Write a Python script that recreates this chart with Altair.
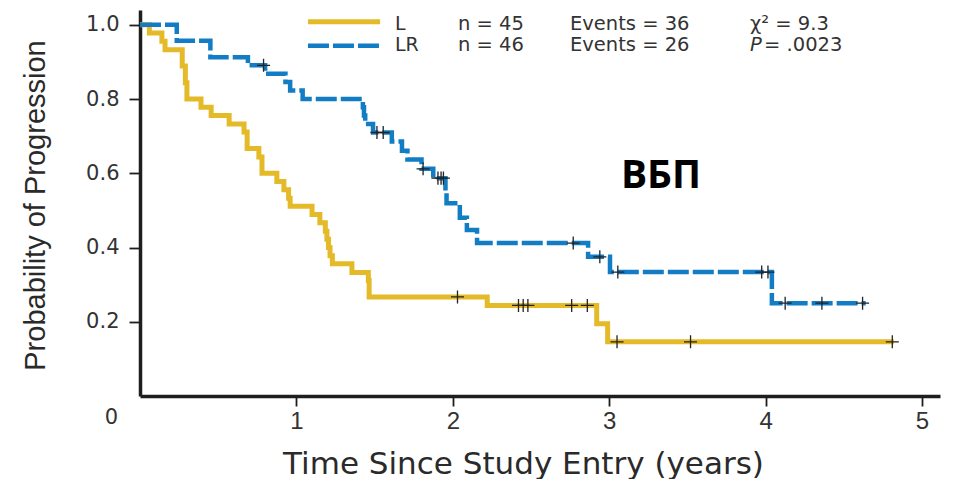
import altair as alt
import pandas as pd

# ---------------- data ----------------
# L arm: Kaplan-Meier step points (time in years, probability)
l_time = [0.0, 0.06, 0.14, 0.16, 0.27, 0.29, 0.30, 0.39, 0.455, 0.57, 0.665, 0.685,
          0.76, 0.78, 0.875, 0.92, 0.95, 0.96, 1.10, 1.15, 1.185, 1.195, 1.205, 1.215,
          1.23, 1.355, 1.46, 1.465, 2.22, 2.92, 2.99, 4.82]
l_surv = [1.0, 0.978, 0.956, 0.933, 0.889, 0.844, 0.80, 0.778, 0.756, 0.733, 0.711, 0.667,
          0.644, 0.60, 0.578, 0.556, 0.533, 0.511, 0.489, 0.467, 0.444, 0.422, 0.40, 0.378,
          0.356, 0.333, 0.311, 0.267, 0.244, 0.195, 0.146, 0.146]
l_cens_time = [2.03, 2.42, 2.45, 2.48, 2.76, 2.86, 3.05, 3.52, 4.81]
l_cens_surv = [0.267, 0.244, 0.244, 0.244, 0.244, 0.244, 0.146, 0.146, 0.146]

# LR arm
lr_time = [0.0, 0.235, 0.45, 0.69, 0.80, 0.93, 0.96, 1.04, 1.425, 1.432, 1.44, 1.49,
           1.61, 1.675, 1.71, 1.80, 1.875, 1.953, 1.96, 2.045, 2.09, 2.155, 2.865,
           3.005, 4.04, 4.64]
lr_surv = [1.0, 0.957, 0.913, 0.891, 0.868, 0.846, 0.823, 0.80, 0.778, 0.756, 0.733, 0.710,
           0.686, 0.661, 0.637, 0.612, 0.587, 0.55, 0.519, 0.480, 0.447, 0.412, 0.375,
           0.334, 0.250, 0.250]
lr_cens_time = [0.79, 1.515, 1.555, 1.81, 1.905, 1.925, 1.94, 2.77, 2.94, 3.055,
                3.975, 4.015, 4.125, 4.36, 4.62]
lr_cens_surv = [0.891, 0.710, 0.710, 0.612, 0.587, 0.587, 0.587, 0.412, 0.375, 0.334,
                0.334, 0.334, 0.25, 0.25, 0.25]

x_ticks = [1, 2, 3, 4, 5]
y_ticks = [0.2, 0.4, 0.6, 0.8, 1.0]
series_names = ["L", "LR"]
n_text = ["n = 45", "n = 46"]
events_text = ["Events = 36", "Events = 26"]
chi_text = "χ² = 9.3"
p_text = "= .0023"
panel_label = "ВБП"

# ---------------- styling ----------------
GOLD = "#E5BA28"
BLUE = "#127DC5"
INK = "#1e1e1e"
TXT = "#333333"
X_DOMAIN = [0, 5.115]
Y_DOMAIN = [0, 1.04]

x_scale = alt.Scale(domain=X_DOMAIN, nice=False, zero=False)
y_scale = alt.Scale(domain=Y_DOMAIN, nice=False, zero=False)

x_axis = alt.Axis(
    values=x_ticks, format="d", title="Time Since Study Entry (years)",
    grid=False, domainColor=INK, domainWidth=3.5, tickColor=INK, tickWidth=1.8,
    tickSize=10, labelFont="Liberation Sans Narrow, Liberation Sans", labelFontSize=24,
    labelColor=TXT, labelPadding=3, labelFlush=False,
    titleFont="DejaVu Sans", titleFontSize=31, titleFontWeight="normal",
    titleColor="#2a2a2a", titleX=383, titleY=77, titleBaseline="alphabetic",
    titleAlign="center",
)
y_axis = alt.Axis(
    values=y_ticks, format=".1f", title="Probability of Progression",
    grid=False, domainColor=INK, domainWidth=3.5, tickColor=INK, tickWidth=1.8,
    tickSize=11, labelFont="DejaVu Sans", labelFontSize=21, labelColor=TXT,
    labelPadding=10, labelFlush=False,
    titleFont="Liberation Sans", titleFontSize=29, titleFontWeight="normal",
    titleColor="#2a2a2a", titleAngle=270, titleX=-96, titleY=195,
    titleBaseline="alphabetic", titleAlign="center",
)

def X(field):
    return alt.X(f"{field}:Q", scale=x_scale, axis=x_axis)

def Y(field):
    return alt.Y(f"{field}:Q", scale=y_scale, axis=y_axis)

def DX(v):
    return alt.X(datum=v, type="quantitative", scale=x_scale, axis=x_axis)

def DY(v):
    return alt.Y(datum=v, type="quantitative", scale=y_scale, axis=y_axis)

df_l = pd.DataFrame({"t": l_time, "p": l_surv})
df_lr = pd.DataFrame({"t": lr_time, "p": lr_surv})
df_cens = pd.DataFrame({"t": l_cens_time + lr_cens_time,
                        "p": l_cens_surv + lr_cens_surv})

line_l = alt.Chart(df_l).mark_line(
    interpolate="step-after", color=GOLD, strokeWidth=5, strokeJoin="miter"
).encode(x=X("t"), y=Y("p"))

line_lr = alt.Chart(df_lr).mark_line(
    interpolate="step-after", color=BLUE, strokeWidth=4.5, strokeDash=[21, 4],
    strokeJoin="miter"
).encode(x=X("t"), y=Y("p"))

cens = alt.Chart(df_cens).mark_point(
    shape="M-1,0L1,0M0,-1L0,1", size=170, filled=False, stroke="#222222",
    strokeWidth=1.3, opacity=1
).encode(x=X("t"), y=Y("p"))

layers = [line_l, line_lr, cens]

# legend (drawn manually)
leg_rows = [1.0086, 0.944]
leg_text_rows = [1.0025, 0.9445]
base = alt.Chart(pd.DataFrame({"a": [0]}))
layers.append(base.mark_rule(color=GOLD, strokeWidth=5).encode(
    x=DX(1.074), x2=alt.X2(datum=1.535), y=DY(leg_rows[0])))
layers.append(base.mark_rule(color=BLUE, strokeWidth=4.5, strokeDash=[21, 4]).encode(
    x=DX(1.074), x2=alt.X2(datum=1.535), y=DY(leg_rows[1])))

def label(text, t, p, **kw):
    style = dict(align="left", baseline="middle", font="DejaVu Sans", fontSize=18,
                 color=TXT)
    style.update(kw)
    return base.mark_text(text=text, **style).encode(x=DX(t), y=DY(p))

for i in range(2):
    layers.append(label(series_names[i], 1.630, leg_text_rows[i], fontSize=19))
    layers.append(label(n_text[i], 2.033, leg_text_rows[i], fontSize=19.5))
    layers.append(label(events_text[i], 2.749, leg_text_rows[i], fontSize=19.5))
layers.append(label(chi_text, 3.900, leg_text_rows[0], fontSize=19.5))
layers.append(label("P", 3.900, leg_text_rows[1], fontStyle="italic", fontSize=19.5))
layers.append(label(p_text, 3.99, leg_text_rows[1], fontSize=19.5))
layers.append(label(panel_label, 3.331, 0.560, align="center", baseline="alphabetic",
                    font="Open Sans", fontSize=39, fontWeight="bold", color="#000000"))
# corner "0" label
layers.append(label("0", 0, 0, align="right", dx=-22, dy=22, fontSize=21))

chart = alt.layer(*layers).properties(
    width=800, height=386,
    autosize=alt.AutoSizeParams(type="none"),
    padding={"left": 132, "top": 2, "right": 8, "bottom": 90},
).configure_view(stroke=None)

chart.save("out.html", embed_options={"renderer": "svg", "actions": False})
